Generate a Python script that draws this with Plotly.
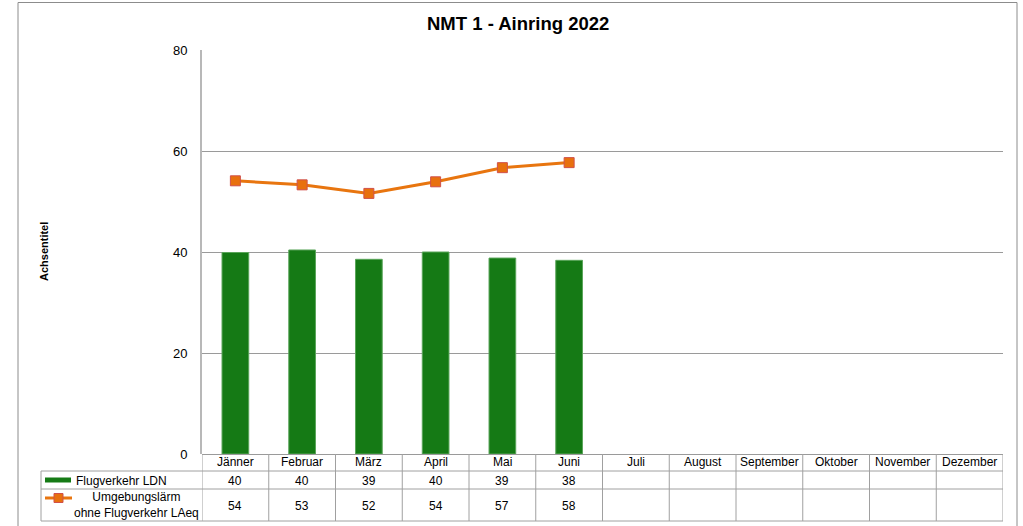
import plotly.graph_objects as go

# ---- data ----
months = ["Jänner", "Februar", "März", "April", "Mai", "Juni",
          "Juli", "August", "September", "Oktober", "November", "Dezember"]
flug_ldn = [39.9, 40.4, 38.55, 40.0, 38.8, 38.35, None, None, None, None, None, None]
umgebung_laeq = [54.1, 53.3, 51.6, 53.9, 56.7, 57.7, None, None, None, None, None, None]
series_names = ["Flugverkehr LDN", "Umgebungslärm<br>ohne Flugverkehr LAeq"]
title_text = "NMT 1 - Ainring 2022"
y_title = "Achsentitel"
y_ticks = [0, 20, 40, 60, 80]

# ---- geometry helpers (pixel -> paper) ----
W, H = 1023, 526
L, R, T, B = 202, 20, 50, 72
PW, PH = W - L - R, H - T - B


def pyp(p):
    return (H - B - p) / PH


def pxp(p):
    return (p - L) / PW


FONT = "Liberation Sans, Arial, sans-serif"
GREEN = "#157a15"
ORANGE = "#e8750f"
GRID = "#9a9a9a"
TABLE = "#a0a0a0"

fig = go.Figure()
fig.add_trace(go.Bar(
    x=months, y=flug_ldn, name="Flugverkehr LDN",
    marker=dict(color=GREEN, line=dict(color="#5aa55a", width=1)),
    width=0.4,
))
fig.add_trace(go.Scatter(
    x=months, y=umgebung_laeq, name="Umgebungslärm ohne Flugverkehr LAeq",
    mode="lines+markers",
    line=dict(color=ORANGE, width=3),
    marker=dict(symbol="square", size=10, color="#e8700e",
                line=dict(color="#d0504a", width=1)),
))

shapes = []
annotations = []

# outer frame
shapes.append(dict(type="rect", xref="paper", yref="paper",
                   x0=pxp(18), x1=pxp(1017), y0=pyp(540), y1=pyp(2.5),
                   line=dict(color="#8c8c8c", width=1), layer="below"))

# data table lines
row_tops = [454, 471, 489, 521]
for yp in row_tops[1:]:
    shapes.append(dict(type="line", xref="paper", yref="paper",
                       x0=pxp(41), x1=pxp(1003), y0=pyp(yp), y1=pyp(yp),
                       line=dict(color=TABLE, width=1)))
for k in range(len(months) + 1):
    shapes.append(dict(type="line", xref="x", yref="paper",
                       x0=k - 0.5, x1=k - 0.5, y0=pyp(454), y1=pyp(521),
                       line=dict(color=TABLE, width=1)))
shapes.append(dict(type="line", xref="paper", yref="paper",
                   x0=pxp(41), x1=pxp(41), y0=pyp(471), y1=pyp(521),
                   line=dict(color=TABLE, width=1)))

# legend keys inside table
shapes.append(dict(type="rect", xref="paper", yref="paper",
                   x0=pxp(45), x1=pxp(71), y0=pyp(482.5), y1=pyp(477.5),
                   fillcolor=GREEN, line=dict(width=0)))
shapes.append(dict(type="line", xref="paper", yref="paper",
                   x0=pxp(45), x1=pxp(72), y0=pyp(498), y1=pyp(498),
                   line=dict(color=ORANGE, width=3)))
shapes.append(dict(type="rect", xref="paper", yref="paper",
                   x0=pxp(54), x1=pxp(63), y0=pyp(502.5), y1=pyp(493.5),
                   fillcolor="#e8700e", line=dict(color="#d0504a", width=1)))

tfont = dict(family=FONT, size=12, color="#000000")

# month header row
for m in months:
    annotations.append(dict(x=m, y=pyp(462.5), xref="x", yref="paper",
                            text=m, showarrow=False, font=tfont,
                            xanchor="center", yanchor="middle"))

# value rows
for m, v in zip(months, flug_ldn):
    if v is not None:
        annotations.append(dict(x=m, y=pyp(480.5), xref="x", yref="paper",
                                text=str(round(v)), showarrow=False, font=tfont,
                                xanchor="center", yanchor="middle"))
for m, v in zip(months, umgebung_laeq):
    if v is not None:
        annotations.append(dict(x=m, y=pyp(505.5), xref="x", yref="paper",
                                text=str(round(v)), showarrow=False, font=tfont,
                                xanchor="center", yanchor="middle"))

# legend labels
annotations.append(dict(x=pxp(74), y=pyp(480.5), xref="paper", yref="paper",
                        text=series_names[0], showarrow=False, font=tfont,
                        xanchor="left", yanchor="middle"))
annotations.append(dict(x=pxp(136), y=pyp(505), xref="paper", yref="paper",
                        text=series_names[1], showarrow=False, font=tfont,
                        xanchor="center", yanchor="middle", align="center"))

# title
annotations.append(dict(x=pxp(518), y=pyp(24), xref="paper", yref="paper",
                        text="<b>" + title_text + "</b>", showarrow=False,
                        font=dict(family=FONT, size=18.5, color="#000000"),
                        xanchor="center", yanchor="middle"))
# y-axis title
annotations.append(dict(x=pxp(44), y=pyp(252), xref="paper", yref="paper",
                        text="<b>" + y_title + "</b>", showarrow=False,
                        textangle=-90,
                        font=dict(family=FONT, size=11, color="#000000"),
                        xanchor="center", yanchor="middle"))

fig.update_layout(
    width=W, height=H,
    margin=dict(l=L, r=R, t=T, b=B, pad=0),
    paper_bgcolor="white", plot_bgcolor="white",
    showlegend=False,
    font=dict(family=FONT, size=12, color="#000000"),
    shapes=shapes, annotations=annotations,
    xaxis=dict(type="category", categoryorder="array", categoryarray=months,
               range=[-0.5, len(months) - 0.5], showticklabels=False,
               showgrid=False, zeroline=False, showline=False, ticks=""),
    yaxis=dict(range=[0, 80], tickvals=y_ticks, showgrid=True, gridcolor=GRID,
               gridwidth=1, zeroline=True, zerolinecolor=GRID, zerolinewidth=1,
               showline=True, linecolor="#b8b8b8", linewidth=2,
               ticks="", ticklabelstandoff=10,
               tickfont=dict(family=FONT, size=13, color="#000000")),
)

fig.write_html("out.html",
               config={"displayModeBar": False},
               post_script="document.body.style.margin='0';"
                           "document.body.style.overflow='hidden';")
